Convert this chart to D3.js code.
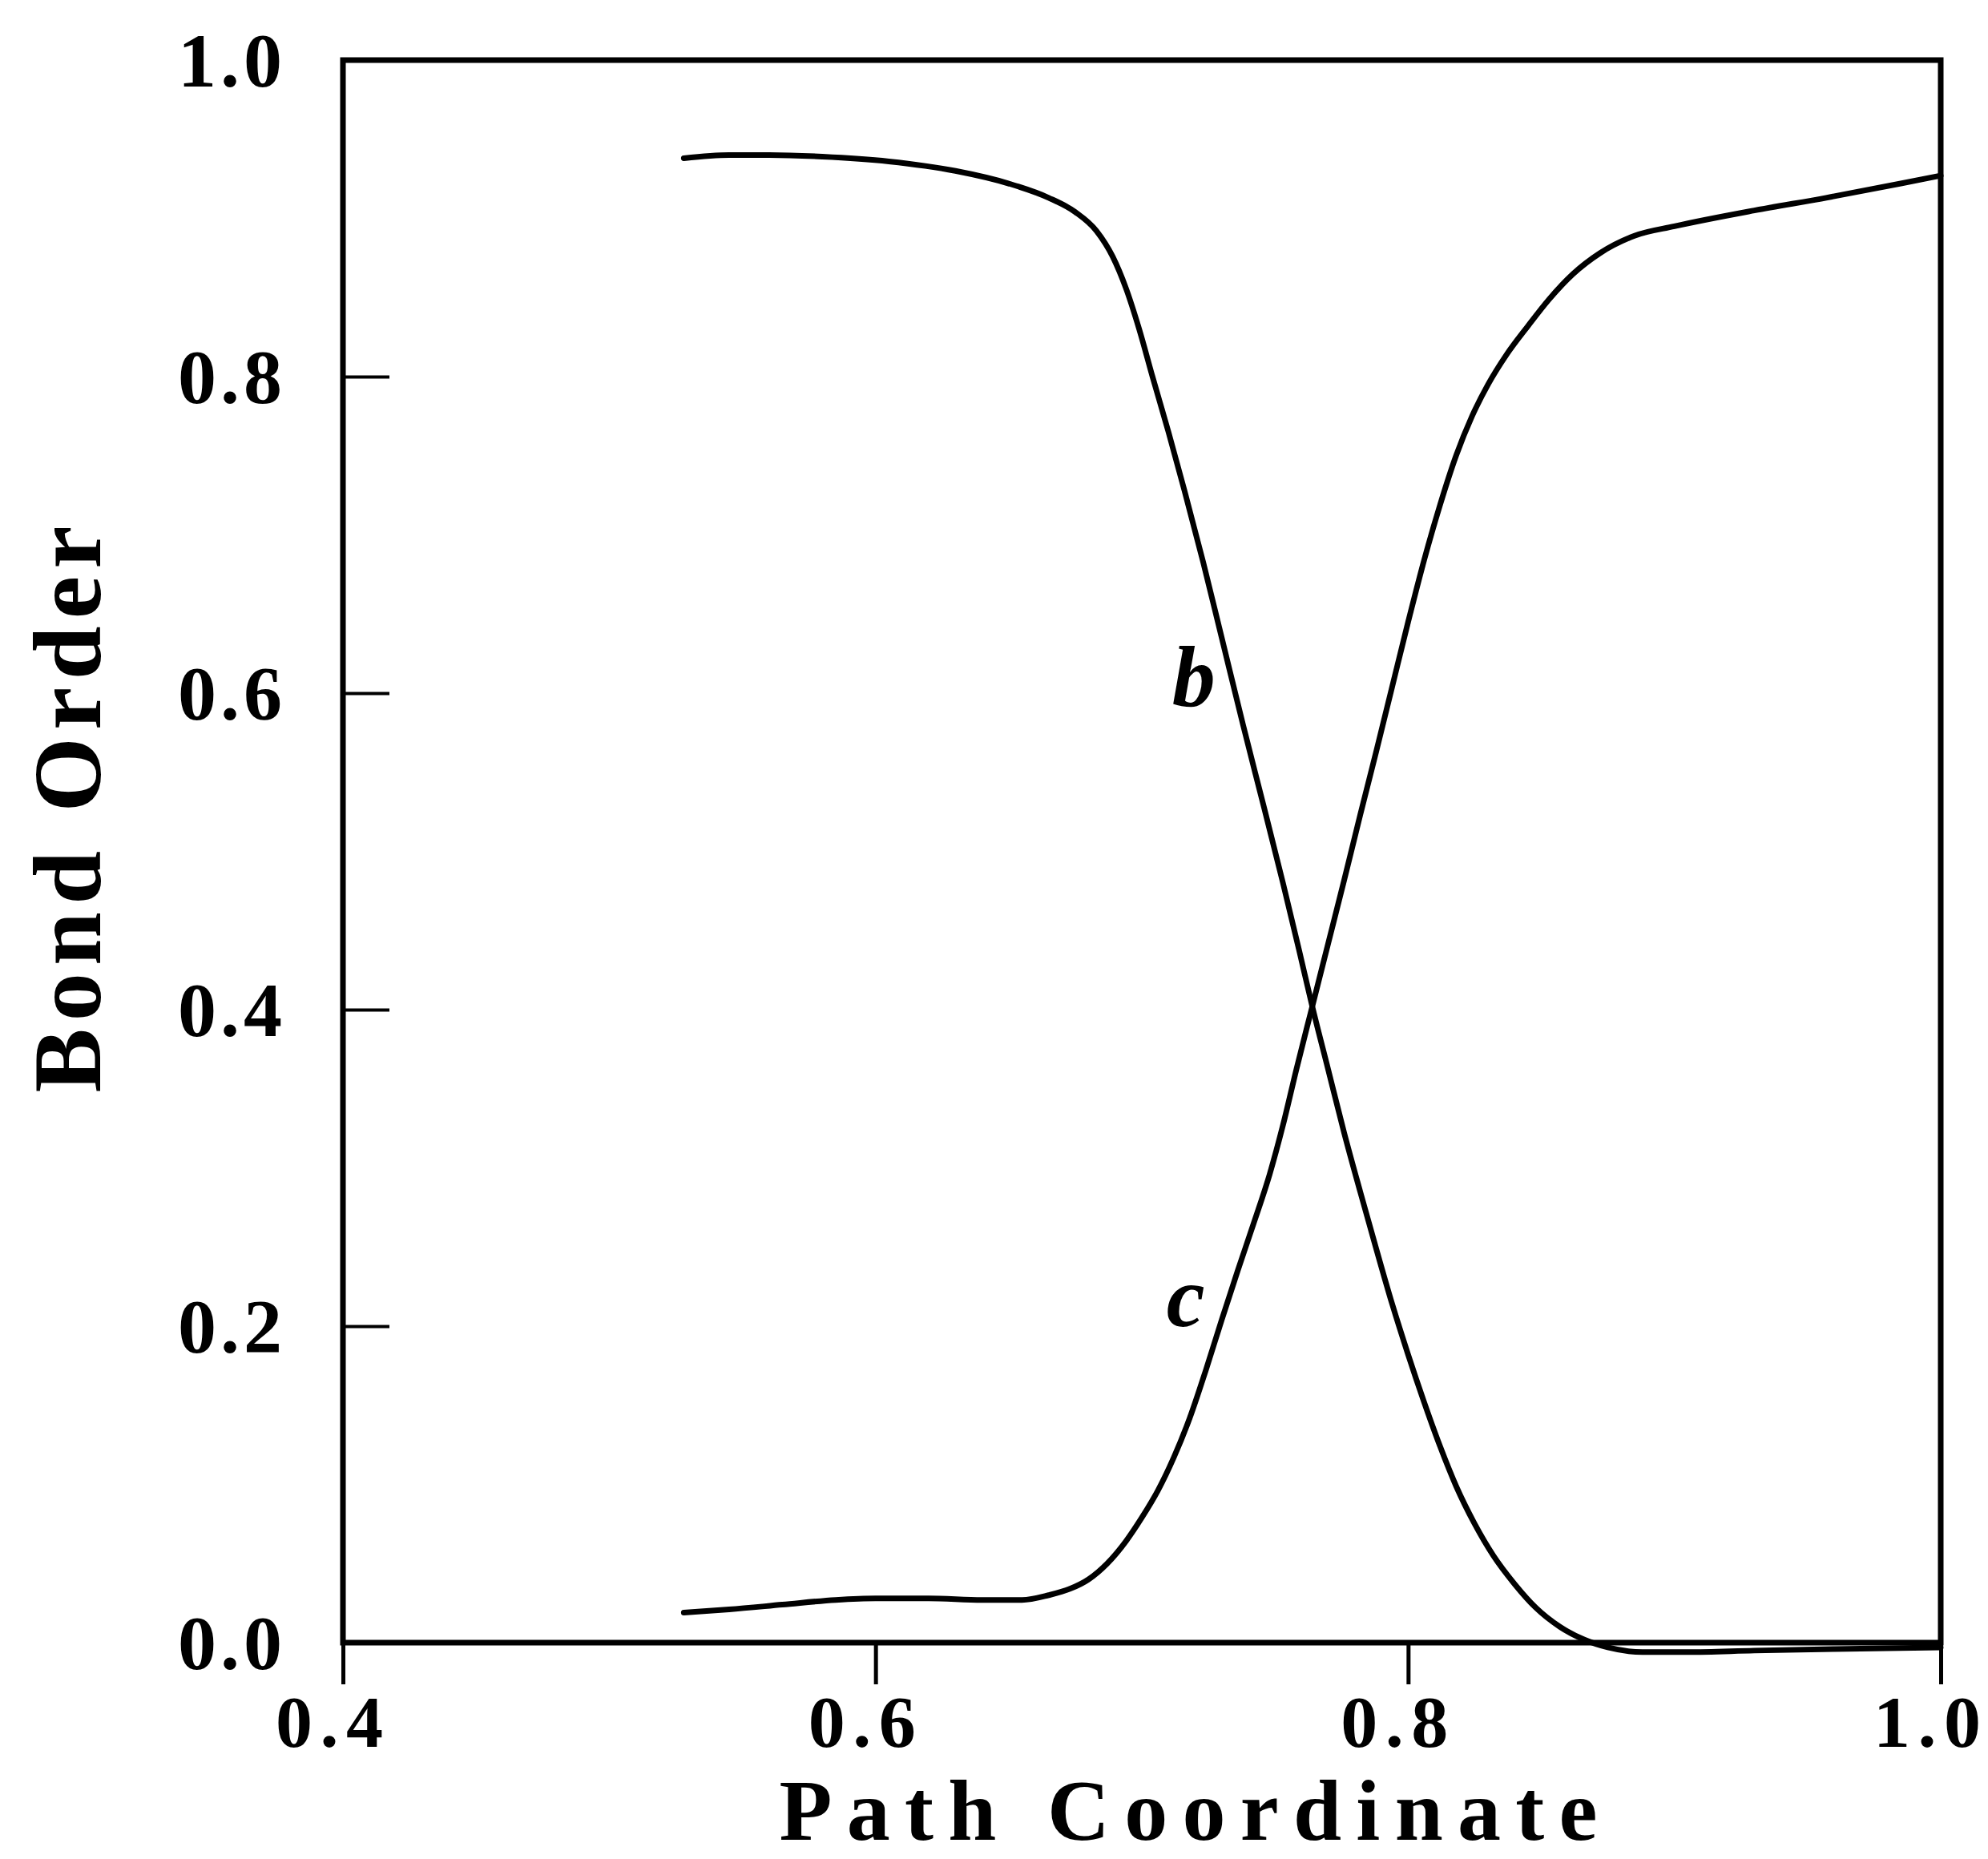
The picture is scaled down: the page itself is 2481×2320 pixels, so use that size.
<!DOCTYPE html>
<html>
<head>
<meta charset="utf-8">
<script src="https://cdn.jsdelivr.net/npm/d3@7"></script>
<style>
  html, body { margin: 0; padding: 0; background: #fff; }
  svg { display: block; }
  text { font-family: "Liberation Serif", "DejaVu Serif", serif; fill: #000; }
</style>
</head>
<body>
<svg id="chart" width="2481" height="2320"></svg>
<script>
// ---- data ----
const xTicks = [0.4, 0.6, 0.8, 1.0];
const xTickLabels = ["0.4", "0.6", "0.8", "1.0"];
const yTicks = [0.0, 0.2, 0.4, 0.6, 0.8, 1.0];
const yTickLabels = ["0.0", "0.2", "0.4", "0.6", "0.8", "1.0"];
const xTitle = "Path Coordinate";
const yTitle = "Bond Order";

const seriesB_x = [0.528,0.545,0.560,0.580,0.605,0.630,0.650,0.665,0.675,0.683,0.689,0.694,0.699,0.704,0.710,0.716,0.723,0.730,0.738,0.746,0.753,0.759,0.764,0.770,0.776,0.782,0.788,0.794,0.800,0.806,0.812,0.818,0.825,0.832,0.840,0.848,0.857,0.866,0.875,0.888,0.905,0.930,0.960,1.000];
const seriesB_y = [0.938,0.940,0.940,0.939,0.936,0.930,0.922,0.913,0.904,0.892,0.876,0.856,0.830,0.800,0.765,0.728,0.683,0.635,0.580,0.527,0.480,0.438,0.402,0.362,0.322,0.285,0.249,0.214,0.182,0.152,0.124,0.099,0.075,0.055,0.037,0.022,0.010,0.002,-0.003,-0.006,-0.006,-0.005,-0.004,-0.003];

const seriesC_x = [0.528,0.545,0.565,0.585,0.600,0.620,0.640,0.655,0.665,0.673,0.680,0.687,0.694,0.700,0.706,0.712,0.718,0.724,0.730,0.736,0.742,0.748,0.753,0.758,0.764,0.770,0.776,0.782,0.788,0.794,0.800,0.806,0.812,0.818,0.824,0.830,0.837,0.845,0.853,0.862,0.872,0.885,0.900,0.930,0.957,0.985,1.000];
const seriesC_y = [0.019,0.021,0.024,0.027,0.028,0.028,0.027,0.027,0.030,0.034,0.040,0.050,0.064,0.079,0.096,0.117,0.142,0.172,0.204,0.235,0.265,0.296,0.327,0.362,0.402,0.442,0.482,0.523,0.563,0.604,0.645,0.684,0.719,0.750,0.775,0.795,0.814,0.832,0.849,0.865,0.878,0.889,0.895,0.905,0.913,0.922,0.927];

const curveLabels = [
  {text: "b", x: 0.7195, y: 0.592},
  {text: "c", x: 0.7165, y: 0.200}
];

// ---- chart ----
const svg = d3.select("#chart");
svg.append("rect").attr("width", 2481).attr("height", 2320).attr("fill", "#fff");

const x = d3.scaleLinear().domain([0.4, 1.0]).range([428, 2422]);
const y = d3.scaleLinear().domain([0, 1]).range([2050, 75]);

// frame
svg.append("rect")
  .attr("x", x(0.4)).attr("y", y(1))
  .attr("width", x(1.0) - x(0.4)).attr("height", y(0) - y(1))
  .attr("fill", "none").attr("stroke", "#000").attr("stroke-width", 7);

// x ticks (outward, downward)
const xAxis = d3.axisBottom(x).tickValues(xTicks).tickSizeInner(52).tickSizeOuter(0).tickFormat("");
const gx = svg.append("g").attr("transform", `translate(0,${y(0)})`).call(xAxis);
gx.select(".domain").remove();
gx.selectAll(".tick line").attr("stroke", "#000").attr("stroke-width", 5);

// y ticks (inward)
const yAxis = d3.axisLeft(y).tickValues([0.2, 0.4, 0.6, 0.8]).tickSizeInner(-58).tickSizeOuter(0).tickFormat("");
const gy = svg.append("g").attr("transform", `translate(${x(0.4)},0)`).call(yAxis);
gy.select(".domain").remove();
gy.selectAll(".tick line").attr("stroke", "#000").attr("stroke-width", 4);

// tick labels
svg.append("g").selectAll("text").data(xTicks).join("text")
  .attr("x", d => x(d) - 17)
  .attr("y", 2180)
  .attr("text-anchor", "middle")
  .attr("font-size", 92).attr("font-weight", "bold")
  .attr("textLength", 134).attr("lengthAdjust", "spacing")
  .text((d, i) => xTickLabels[i]);

svg.append("g").selectAll("text").data(yTicks).join("text")
  .attr("x", 352)
  .attr("y", d => y(d) + 33)
  .attr("text-anchor", "end")
  .attr("font-size", 96).attr("font-weight", "bold")
  .attr("textLength", 130).attr("lengthAdjust", "spacing")
  .text((d, i) => yTickLabels[i]);

// axis titles
svg.append("text")
  .attr("x", 1483).attr("y", 2296)
  .attr("text-anchor", "middle")
  .attr("font-size", 108).attr("font-weight", "bold")
  .attr("textLength", 1021).attr("lengthAdjust", "spacing")
  .text(xTitle);

svg.append("text")
  .attr("transform", "translate(125,1010) rotate(-90)")
  .attr("text-anchor", "middle")
  .attr("font-size", 120).attr("font-weight", "bold")
  .attr("textLength", 707).attr("lengthAdjust", "spacing")
  .text(yTitle);

// curves
const line = d3.line().x(d => x(d[0])).y(d => y(d[1])).curve(d3.curveMonotoneX);
const dataB = seriesB_x.map((v, i) => [v, seriesB_y[i]]);
const dataC = seriesC_x.map((v, i) => [v, seriesC_y[i]]);
[dataB, dataC].forEach(d => {
  svg.append("path").datum(d).attr("d", line)
    .attr("fill", "none").attr("stroke", "#000").attr("stroke-width", 7)
    .attr("stroke-linejoin", "round").attr("stroke-linecap", "round");
});

// curve labels
svg.append("g").selectAll("text").data(curveLabels).join("text")
  .attr("x", d => x(d.x)).attr("y", d => y(d.y))
  .attr("text-anchor", "middle")
  .attr("font-size", 108).attr("font-weight", "bold").attr("font-style", "italic")
  .text(d => d.text);
</script>
</body>
</html>
